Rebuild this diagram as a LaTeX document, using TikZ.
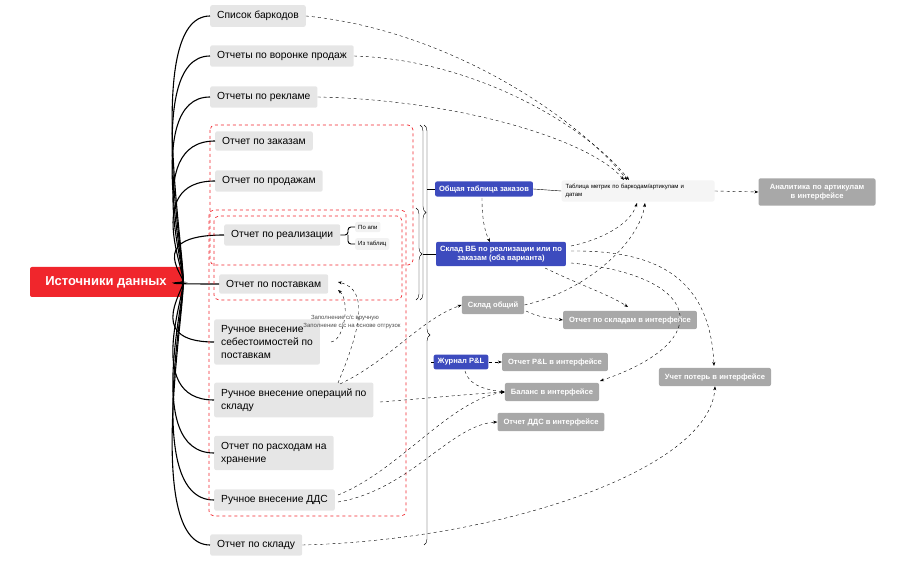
\documentclass[tikz,border=0pt]{standalone}
\usepackage{fontspec}
\setmainfont{Liberation Sans}
\usetikzlibrary{arrows.meta,decorations.pathreplacing}
\definecolor{lg}{HTML}{E6E6E6}
\definecolor{dg}{HTML}{A8A8A8}
\definecolor{bl}{HTML}{3D4BBE}
\definecolor{rd}{HTML}{F0262C}
\begin{document}
\begin{tikzpicture}[x=1pt,y=-1pt,
 src/.style={fill=lg,rounded corners=2pt,anchor=west,align=left,font=\fontsize{10.3}{13}\selectfont,inner xsep=7pt,inner ysep=6pt},
 gr/.style={fill=dg,text=white,rounded corners=2pt,font=\fontsize{7.6}{9.5}\bfseries\selectfont,inner xsep=6pt,inner ysep=5.5pt,align=center},
 bn/.style={fill=bl,text=white,rounded corners=2pt,font=\fontsize{7.6}{9.5}\bfseries\selectfont,inner xsep=4pt,inner ysep=4pt,align=center},
 con/.style={line width=1.1pt,black},
 da/.style={dashed,thin,-{Stealth[length=4pt]}},
 rbox/.style={draw=rd,dashed,rounded corners=5pt,line width=0.7pt},
 br/.style={decorate,decoration={brace,amplitude=6pt},thin}]
\useasboundingbox (0,0) rectangle (906,561);
\node[fill=rd,text=white,font=\fontsize{13}{15}\bfseries\selectfont,minimum width=152pt,minimum height=30pt,rounded corners=2pt] (S) at (106,282) {Источники данных};
\node[src] (n1) at (210,16) {Список баркодов};
\node[src] (n2) at (210,56) {Отчеты по воронке продаж};
\node[src] (n3) at (210,97) {Отчеты по рекламе};
\node[src] (n4) at (215,141) {Отчет по заказам};
\node[src] (n5) at (215,181) {Отчет по продажам};
\node[src] (n6) at (224,235) {Отчет по реализации};
\node[src] (n7) at (219,284) {Отчет по поставкам};
\node[src] (n8) at (214,342) {Ручное внесение\\себестоимостей по\\поставкам};
\node[src] (n9) at (214,400) {Ручное внесение операций по\\складу};
\node[src] (n10) at (214,453) {Отчет по расходам на\\хранение};
\node[src] (n11) at (214,500) {Ручное внесение ДДС};
\node[src] (n12) at (210,545) {Отчет по складу};
\foreach \i in {1,...,12} \draw[con] (S.east) .. controls (190,282) and (140,0|-n\i.west) .. (n\i.west);
\node[fill=lg!50,rounded corners=2pt,font=\fontsize{6}{7}\selectfont,anchor=west,inner sep=3pt] (pa) at (355,227) {По апи};
\node[fill=lg!50,rounded corners=2pt,font=\fontsize{6}{7}\selectfont,anchor=west,inner sep=3pt] (it) at (355,244) {Из таблиц};
\draw[con,line width=0.9pt,rounded corners=3pt] (n6.east) -- (348,235) -- (348,227) -- (pa.west);
\draw[con,line width=0.9pt,rounded corners=3pt] (348,235) -- (348,244) -- (it.west);
\draw[rbox] (210,125) rectangle (413,265);
\draw[rbox] (209,210) rectangle (406,516);
\draw[rbox] (214,216) rectangle (402,300);
\node[bn] (ob) at (484,189) {Общая таблица заказов};
\node[bn] (sv) at (501,254) {Склад ВБ по реализации или по\\заказам (оба варианта)};
\node[bn] (jr) at (461,362) {Журнал P\&L};
\node[fill=lg!40,rounded corners=2pt,font=\fontsize{6}{7.5}\selectfont,align=left,text width=145pt,inner sep=4pt] (tm) at (638,191) {Таблица метрик по баркодам/артикулам и\\датам};
\node[gr,text width=105pt] (an) at (817,192) {Аналитика по артикулам в интерфейсе};
\node[gr] (so) at (493,305) {Склад общий};
\node[gr] (os) at (630,320) {Отчет по складам в интерфейсе};
\node[gr] (op) at (555,362) {Отчет P\&L в интерфейсе};
\node[gr] (ba) at (552,392) {Баланс в интерфейсе};
\node[gr] (od) at (551,422) {Отчет ДДС в интерфейсе};
\node[gr] (up) at (715,377) {Учет потерь в интерфейсе};
\draw[br] (420,125) -- (420,300);
\draw[br] (416,208) -- (416,300);
\draw[br] (424,125) -- (424,545);
\draw[thin] (427,189) -- (ob.west);
\draw[thin] (423,254) -- (sv.west);
\draw[thin] (431,362) -- (jr.west);
\draw[thin] (ob.east) -- (tm.west);
\draw[da] (n1.east) .. controls (450,30) and (580,120) .. (627,180);
\draw[da] (n2.east) .. controls (480,60) and (590,130) .. (629,180);
\draw[da] (n3.east) .. controls (460,100) and (590,140) .. (624,180);
\draw[da] (tm.east) -- (an.west);
\draw[da] (482,198) .. controls (482,220) and (485,232) .. (490,242);
\draw[da] (571,246) .. controls (600,240) and (630,225) .. (637,203);
\draw[da] (571,251) .. controls (660,250) and (710,280) .. (714,366);
\draw[da] (571,263) .. controls (700,275) and (720,340) .. (600,381);
\draw[da] (545,268) .. controls (580,285) and (610,295) .. (628,307);
\draw[da] (so.east) .. controls (590,290) and (640,240) .. (645,203);
\draw[da] (526,311) .. controls (540,318) and (550,318) .. (os.west);
\draw[da] (jr.east) -- (op.west);
\draw[da] (465,371) .. controls (470,388) and (490,390) .. (ba.west);
\draw[da] (380,402) .. controls (430,398) and (470,394) .. (ba.west);
\draw[da] (340,384) .. controls (390,360) and (420,320) .. (so.west);
\draw[da] (338,383) .. controls (360,330) and (370,290) .. (338,282);
\draw[da] (331,342) .. controls (345,340) and (350,300) .. (338,290);
\draw[da] (338,495) .. controls (400,470) and (450,400) .. (ba.west);
\draw[da] (338,502) .. controls (410,490) and (450,425) .. (od.west);
\draw[da] (n12.east) .. controls (500,540) and (710,470) .. (up.south);
\node[font=\fontsize{6}{7}\selectfont,text=black!70,inner sep=0pt] (l1) at (345,318) {Заполнение с/с вручную};
\node[font=\fontsize{6}{7}\selectfont,text=black!70,inner sep=0pt] (l2) at (352,326) {Заполнение с/с на основе отгрузок};
\end{tikzpicture}
\end{document}
